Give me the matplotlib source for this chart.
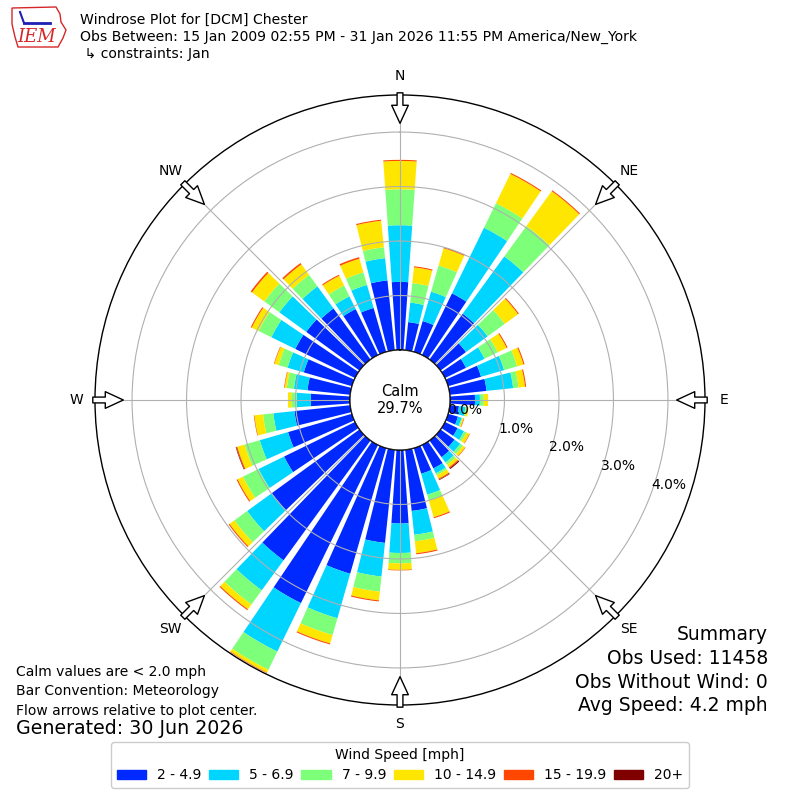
import numpy as np
import matplotlib
matplotlib.use("Agg")
import matplotlib.pyplot as plt
import matplotlib.patches as mpatches

# ── Données (pourcentages par direction, 10° par secteur) ─────────────────────
DIRECTIONS = np.arange(0, 360, 10)

SPEED_2_5 = [1.25, 0.52, 0.59, 1.26, 1.04, 0.58, 0.43, 0.63, 0.68, 0.46, 0.17, 0.19,
             0.26, 0.32, 0.38, 0.48, 0.49, 1.13, 1.35, 1.72, 2.40, 3.23, 2.72, 1.99,
             1.45, 1.22, 1.03, 0.72, 0.79, 0.92, 1.22, 1.21, 1.16, 0.94, 0.84, 1.29]
SPEED_5_7 = [1.04, 0.36, 0.56, 1.34, 1.30, 0.49, 0.38, 0.44, 0.49, 0.09, 0.12, 0.07,
             0.13, 0.13, 0.12, 0.10, 0.40, 0.44, 0.54, 0.62, 0.85, 0.99, 0.68, 0.56,
             0.52, 0.54, 0.39, 0.26, 0.25, 0.31, 0.49, 0.61, 0.50, 0.26, 0.44, 0.41]
SPEED_7_10 = [0.66, 0.36, 0.50, 0.50, 0.69, 0.39, 0.27, 0.25, 0.10, 0.07, 0.02, 0.02,
              0.05, 0.06, 0.05, 0.04, 0.11, 0.12, 0.19, 0.28, 0.32, 0.37, 0.32, 0.29,
              0.32, 0.29, 0.19, 0.10, 0.13, 0.17, 0.26, 0.34, 0.26, 0.22, 0.24, 0.20]
SPEED_10_15 = [0.52, 0.29, 0.33, 0.60, 0.79, 0.30, 0.18, 0.12, 0.12, 0.08, 0.04, 0.02,
               0.06, 0.05, 0.06, 0.07, 0.32, 0.22, 0.12, 0.16, 0.16, 0.06, 0.11, 0.11,
               0.11, 0.14, 0.16, 0.06, 0.04, 0.08, 0.14, 0.28, 0.24, 0.20, 0.26, 0.49]
SPEED_15_20 = [0.02, 0.02, 0.02, 0.02, 0.02, 0.02, 0.02, 0.02, 0.02, 0.00, 0.00, 0.01,
               0.01, 0.01, 0.02, 0.02, 0.02, 0.02, 0.01, 0.02, 0.02, 0.01, 0.02, 0.02,
               0.02, 0.02, 0.01, 0.00, 0.01, 0.01, 0.02, 0.03, 0.03, 0.02, 0.03, 0.02]
SPEED_20P = [0.00, 0.00, 0.00, 0.00, 0.00, 0.00, 0.00, 0.00, 0.00, 0.00, 0.00, 0.00,
             0.00, 0.00, 0.02, 0.01, 0.00, 0.00, 0.00, 0.00, 0.00, 0.00, 0.00, 0.00,
             0.00, 0.01, 0.00, 0.00, 0.00, 0.00, 0.00, 0.00, 0.00, 0.00, 0.00, 0.00]

SPEED_LABELS = ["2 - 4.9", "5 - 6.9", "7 - 9.9", "10 - 14.9", "15 - 19.9", "20+"]
CALM_PCT = 29.7

RTICKS = [0, 1, 2, 3, 4]
COMPASS = ["N", "NE", "E", "SE", "S", "SW", "W", "NW"]

TITLE_LINES = [
    "Windrose Plot for [DCM] Chester",
    "Obs Between: 15 Jan 2009 02:55 PM - 31 Jan 2026 11:55 PM America/New_York",
    " \u21b3 constraints: Jan",
]
NOTES = ["Calm values are < 2.0 mph", "Bar Convention: Meteorology",
         "Flow arrows relative to plot center."]
SUMMARY = ["Summary", "Obs Used: 11458", "Obs Without Wind: 0", "Avg Speed: 4.2 mph"]

# ── Géométrie ─────────────────────────────────────────────────────────────────
RMAX = 4.68
RORIGIN = -0.917
COLORS = plt.cm.jet(np.linspace(0, 1, 7)[1:])


def draw_logo(fig):
    px = lambda x, y: (x / 800, 1 - y / 800)
    outline = [(12, 8), (56, 7), (60, 14), (61, 22), (66, 30), (63, 38),
               (58, 47), (18, 47), (15, 37), (12, 24)]
    fig.patches.append(mpatches.Polygon([px(*p) for p in outline], closed=True,
                                        fill=False, ec="#d62728", lw=1,
                                        transform=fig.transFigure))
    fig.lines.append(plt.Line2D([24 / 800, 50 / 800], [1 - 23 / 800, 1 - 23 / 800],
                                color="#1f1fb4", lw=2, transform=fig.transFigure))
    fig.lines.append(plt.Line2D([20 / 800, 24 / 800], [1 - 12 / 800, 1 - 23 / 800],
                                color="#1f1fb4", lw=1.5, transform=fig.transFigure))
    fig.text(*px(37, 37), "IEM", color="#d62728", fontsize=13, style="italic",
             family="DejaVu Serif", ha="center", va="center")


def main():
    fig = plt.figure(figsize=(8, 8), dpi=100)
    ax = fig.add_axes([0.11875, 0.11875, 0.7625, 0.7625], projection="polar")
    ax.set_theta_zero_location("N")
    ax.set_theta_direction(-1)
    ax.set_rorigin(RORIGIN)
    ax.set_rlim(0, RMAX)

    theta = np.deg2rad(DIRECTIONS)
    width = np.deg2rad(8)
    bottom = np.zeros(len(DIRECTIONS))
    series = [SPEED_2_5, SPEED_5_7, SPEED_7_10, SPEED_10_15, SPEED_15_20, SPEED_20P]
    handles = []
    for vals, col, lab in zip(series, COLORS, SPEED_LABELS):
        vals = np.array(vals)
        ax.bar(theta, vals, width=width, bottom=bottom, color=col, lw=0)
        bottom += vals
        handles.append(mpatches.Patch(color=col, label=lab))

    ax.set_thetagrids(np.arange(0, 360, 45), labels=[""] * 8)
    ax.set_rgrids(RTICKS, labels=[f"{t:.1f}%" for t in RTICKS], angle=110,
                  fontsize=10)
    ax.spines["polar"].set_linewidth(1)

    # Cercle calme
    ax.add_patch(mpatches.Circle((0.5, 0.5), 50 / 610, transform=ax.transAxes,
                                 fc="white", ec="black", lw=1, zorder=5))
    ax.text(0.5, 0.5, f"Calm\n{CALM_PCT:.1f}%", transform=ax.transAxes,
            ha="center", va="center", fontsize=10.5, zorder=6)

    # Flèches et étiquettes cardinales
    for i, lab in enumerate(COMPASS):
        ang = np.deg2rad(i * 45)
        ax.annotate("", xy=(ang, 4.16), xytext=(ang, 4.72),
                    arrowprops=dict(arrowstyle="simple,head_length=1.3,head_width=1.2,tail_width=0.42",
                                    fc="white", ec="black", lw=1,
                                    shrinkA=0, shrinkB=0, mutation_scale=10),
                    annotation_clip=False, zorder=7)
        ax.text(ang, 5.03, lab, ha="center", va="center", fontsize=10)

    # Textes
    for k, line in enumerate(TITLE_LINES):
        fig.text(0.1, 1 - (20 + 17 * k) / 800, line, fontsize=10.1, va="center")
    draw_logo(fig)

    for k, line in enumerate(NOTES):
        fig.text(0.02, 1 - (672 + 19.5 * k) / 800, line, fontsize=10, va="center")
    fig.text(0.02, 1 - 729 / 800, "Generated: 30 Jun 2026", fontsize=13.7, va="center")

    for k, line in enumerate(SUMMARY):
        fig.text(0.96, 1 - (635 + 23.5 * k) / 800, line, fontsize=13.5, ha="right",
                 va="center")

    fig.legend(handles=handles, loc="center", bbox_to_anchor=(0.5, 1 - 765 / 800),
               ncol=6, fontsize=10, title="Wind Speed [mph]", title_fontsize=10,
               handlelength=2.1, columnspacing=0.55, framealpha=1)

    fig.savefig("out.png", dpi=100)
    plt.close(fig)


if __name__ == "__main__":
    main()
